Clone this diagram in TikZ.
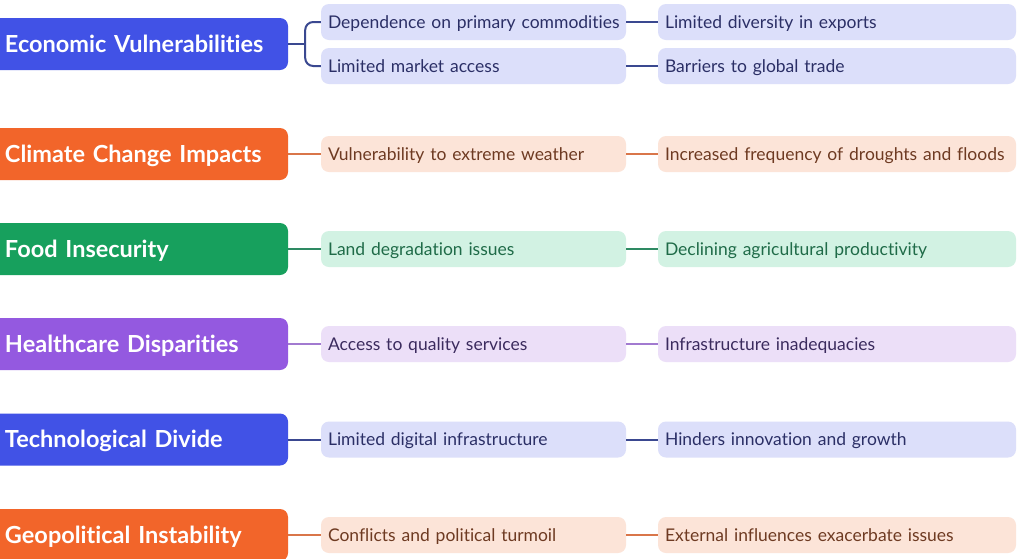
\documentclass[tikz,border=0pt]{standalone}
\usepackage{fontspec}
\setmainfont{Lato}[Ligatures=NoCommon]
\definecolor{mBlue}{HTML}{4152E6}
\definecolor{mOrange}{HTML}{F2652A}
\definecolor{mGreen}{HTML}{17A05D}
\definecolor{mPurple}{HTML}{9459E0}
\definecolor{sBlue}{HTML}{DCDFFA}
\definecolor{sOrange}{HTML}{FCE4D8}
\definecolor{sGreen}{HTML}{D2F2E3}
\definecolor{sPurple}{HTML}{ECDFF8}
\definecolor{tBlue}{HTML}{2B2F66}
\definecolor{tOrange}{HTML}{6E3A22}
\definecolor{tGreen}{HTML}{1F6B48}
\definecolor{tPurple}{HTML}{3B2B5E}
\definecolor{cBlue}{HTML}{3A4890}
\definecolor{cOrange}{HTML}{D9764A}
\definecolor{cGreen}{HTML}{2E8A63}
\definecolor{cPurple}{HTML}{A27AD0}
\begin{document}
\begin{tikzpicture}[x=1pt,y=-1pt,
  mainbox/.style={rectangle,rounded corners=8pt,minimum width=300pt,minimum height=52pt,
    text width=266pt,inner xsep=17pt,inner ysep=0pt,align=left,text=white,
    text height=19pt,text depth=3pt,
    font=\fontsize{23.5}{26}\selectfont\bfseries},
  subone/.style={rectangle,rounded corners=8pt,minimum width=305pt,minimum height=36pt,
    text width=291pt,inner xsep=7pt,inner ysep=0pt,align=left,
    text height=15pt,text depth=3pt,font=\fontsize{17.5}{20}\selectfont},
  subtwo/.style={rectangle,rounded corners=8pt,minimum width=358pt,minimum height=36pt,
    text width=344pt,inner xsep=7pt,inner ysep=0pt,align=left,
    text height=15pt,text depth=3pt,font=\fontsize{17.5}{20}\selectfont},
  blueset/.style={fill=sBlue,text=tBlue},
  orangeset/.style={fill=sOrange,text=tOrange},
  greenset/.style={fill=sGreen,text=tGreen},
  purpleset/.style={fill=sPurple,text=tPurple},
  link/.style={line width=2pt}
]
\useasboundingbox (0,0) rectangle (1024,558);
\fill[white] (0,0) rectangle (1024,558);

% Economic
\node[mainbox,fill=mBlue] (econ) at (138,44) {\mbox{Economic Vulnerabilities}};
\node[subone,blueset] (e1) at (473.5,22) {\mbox{Dependence on primary commodities}};
\node[subtwo,blueset] (e1b) at (837,22) {\mbox{Limited diversity in exports}};
\node[subone,blueset] (e2) at (473.5,66) {\mbox{Limited market access}};
\node[subtwo,blueset] (e2b) at (837,66) {\mbox{Barriers to global trade}};
\draw[link,cBlue] (econ.east) -- ++(17,0) coordinate (br);
\draw[link,cBlue,rounded corners=8pt] (e1.west) -| (br) |- (e2.west);
\draw[link,cBlue] (e1.east) -- (e1b.west);
\draw[link,cBlue] (e2.east) -- (e2b.west);

% Climate
\node[mainbox,fill=mOrange] (clim) at (138,154) {\mbox{Climate Change Impacts}};
\node[subone,orangeset] (c1) at (473.5,154) {\mbox{Vulnerability to extreme weather}};
\node[subtwo,orangeset] (c2) at (837,154) {\mbox{Increased frequency of droughts and floods}};
\draw[link,cOrange] (clim.east) -- (c1.west);
\draw[link,cOrange] (c1.east) -- (c2.west);

% Food
\node[mainbox,fill=mGreen] (food) at (138,249) {\mbox{Food Insecurity}};
\node[subone,greenset] (f1) at (473.5,249) {\mbox{Land degradation issues}};
\node[subtwo,greenset] (f2) at (837,249) {\mbox{Declining agricultural productivity}};
\draw[link,cGreen] (food.east) -- (f1.west);
\draw[link,cGreen] (f1.east) -- (f2.west);

% Healthcare
\node[mainbox,fill=mPurple] (heal) at (138,344) {\mbox{Healthcare Disparities}};
\node[subone,purpleset] (h1) at (473.5,344) {\mbox{Access to quality services}};
\node[subtwo,purpleset] (h2) at (837,344) {\mbox{Infrastructure inadequacies}};
\draw[link,cPurple] (heal.east) -- (h1.west);
\draw[link,cPurple] (h1.east) -- (h2.west);

% Technological
\node[mainbox,fill=mBlue] (tech) at (138,439.5) {\mbox{Technological Divide}};
\node[subone,blueset] (t1) at (473.5,439.5) {\mbox{Limited digital infrastructure}};
\node[subtwo,blueset] (t2) at (837,439.5) {\mbox{Hinders innovation and growth}};
\draw[link,cBlue] (tech.east) -- (t1.west);
\draw[link,cBlue] (t1.east) -- (t2.west);

% Geopolitical
\node[mainbox,fill=mOrange] (geo) at (138,535) {\mbox{Geopolitical Instability}};
\node[subone,orangeset] (g1) at (473.5,535) {\mbox{Conflicts and political turmoil}};
\node[subtwo,orangeset] (g2) at (837,535) {\mbox{External influences exacerbate issues}};
\draw[link,cOrange] (geo.east) -- (g1.west);
\draw[link,cOrange] (g1.east) -- (g2.west);
\end{tikzpicture}
\end{document}
